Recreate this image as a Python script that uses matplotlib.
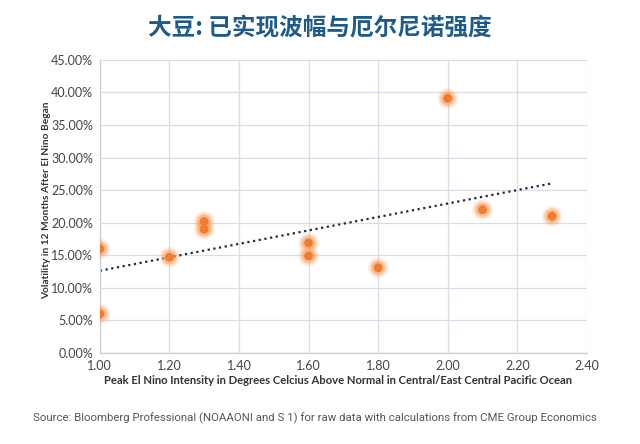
import matplotlib
matplotlib.use("Agg")
import matplotlib.pyplot as plt
import numpy as np
from matplotlib.ticker import FuncFormatter

title = "大豆: 已实现波幅与厄尔尼诺强度"
x_label = "Peak El Nino Intensity in Degrees Celcius Above Normal in Central/East Central Pacific Ocean"
y_label = "Volatility in 12 Months After El Nino Began"
source = "Source: Bloomberg Professional (NOAAONI and S 1) for raw data with calculations from CME Group Economics"

intensity = [1.0, 1.0, 1.2, 1.3, 1.3, 1.6, 1.6, 1.8, 2.0, 2.1, 2.3]
volatility = [16.0, 6.0, 14.7, 20.2, 19.0, 16.9, 14.9, 13.1, 39.1, 22.0, 21.0]
x_ticks = [1.0, 1.2, 1.4, 1.6, 1.8, 2.0, 2.2, 2.4]
y_ticks = [0, 5, 10, 15, 20, 25, 30, 35, 40, 45]

fig = plt.figure(figsize=(6.4, 4.44), dpi=100)
ax = fig.add_axes([0.156, 0.205, 0.761, 0.66])

x = np.array(intensity)
y = np.array(volatility)
# glow markers
for s, a in [(230, 0.15), (150, 0.3), (95, 0.5)]:
    ax.scatter(x, y, s=s, color="#F7A060", alpha=a, edgecolors="none", zorder=3)
ax.scatter(x, y, s=40, color="#F27C2E", edgecolors="none", zorder=4)

# linear trendline
k, b = np.polyfit(x, y, 1)
xs = np.array([x.min(), x.max()])
ax.plot(xs, k * xs + b, linestyle=(0, (1, 1.6)), color="#1E2A3A", lw=1.6, zorder=2)

ax.set_xlim(1.0, 2.4)
ax.set_ylim(0, 45)
ax.set_xticks(x_ticks)
ax.set_yticks(y_ticks)
ax.xaxis.set_major_formatter(FuncFormatter(lambda v, p: f"{v:.2f}"))
ax.yaxis.set_major_formatter(FuncFormatter(lambda v, p: f"{v:.2f}%"))
ax.grid(True, color="#DCDCE6", lw=0.9)
ax.set_axisbelow(True)
for side in ["top", "right"]:
    ax.spines[side].set_visible(False)
for side in ["left", "bottom"]:
    ax.spines[side].set_color("#D0D0DA")
    ax.spines[side].set_linewidth(1.0)
ax.tick_params(length=0, labelsize=9, colors="#444444", pad=5)
for lab in ax.get_xticklabels() + ax.get_yticklabels():
    lab.set_family("Lato")

ax.set_xlabel(x_label, fontsize=8.1, fontweight="bold", color="#333333", family="Lato", labelpad=6)
ax.set_ylabel(y_label, fontsize=7.3, fontweight="bold", color="#333333", family="Lato", labelpad=6)
ax.xaxis.set_label_coords(0.489, -0.075)
ax.yaxis.set_label_coords(-0.10, 0.52)

fig.text(0.5, 0.935, title, ha="center", va="center", fontsize=17, fontweight="bold",
         color="#1F5B8A", family=["Noto Sans CJK SC", "DejaVu Sans"])
fig.text(0.052, 0.057, source, ha="left", va="center", fontsize=8.2, color="#555555",
         family=["Roboto", "DejaVu Sans"])

fig.savefig("out.png", dpi=100, facecolor="white")
